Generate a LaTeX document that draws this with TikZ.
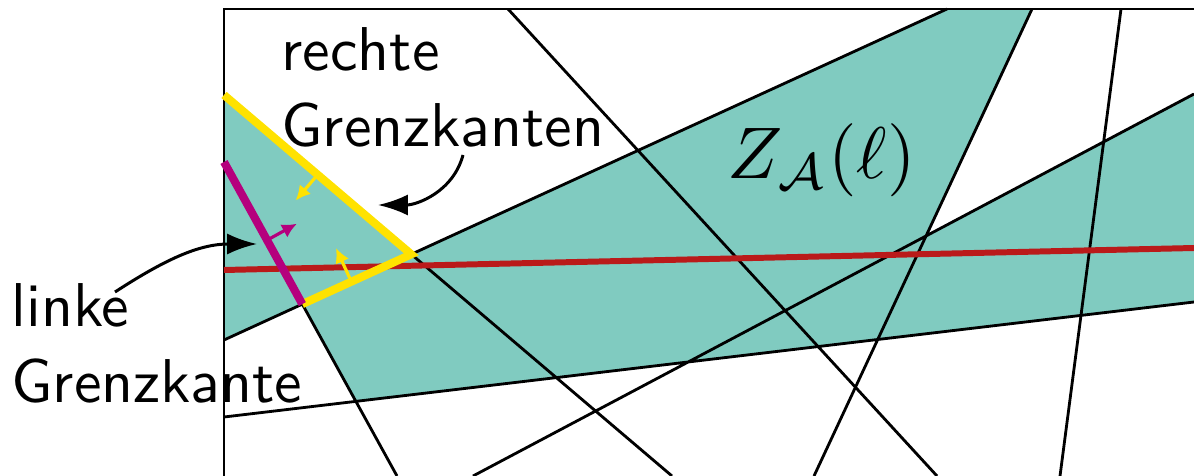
\documentclass[tikz,border=0pt]{standalone}
\usetikzlibrary{arrows.meta,calc}
\definecolor{zonefill}{RGB}{128,203,192}
\definecolor{grenzgelb}{RGB}{255,226,0}
\definecolor{grenzlila}{RGB}{181,0,125}
\definecolor{linerot}{RGB}{186,26,26}
\tikzstyle{arrline}=[black,line width=0.8pt]
\tikzstyle{rkante}=[grenzgelb,line width=2.3pt]
\tikzstyle{lkante}=[grenzlila,line width=2.3pt]
\tikzstyle{ell}=[linerot,line width=1.7pt]
\tikzstyle{dirpfeil}=[line width=0.9pt,-{Latex[length=4.2pt,width=4.2pt]}]
\tikzstyle{zeiger}=[black,line width=0.85pt,-{Latex[length=8.5pt,width=6pt]}]
\tikzstyle{beschr}=[inner sep=0pt,font=\fontsize{10}{12.27}\selectfont\sffamily]
\newcommand{\gross}[1]{\scalebox{1.76}{\begin{tabular}{@{}l@{}}#1\end{tabular}}}

\begin{document}
\begin{tikzpicture}[x=0.01cm,y=-0.01cm]
\useasboundingbox (0,0) rectangle (1194,476);
% Rahmen
\coordinate (R0) at (224,476);
\coordinate (R1) at (224,9);
\coordinate (R2) at (1194,9);
% Geraden des Arrangements
\coordinate (A1) at (224,340); \coordinate (A2) at (947,9);
\coordinate (B1) at (224,95);  \coordinate (B2) at (672,476);
\coordinate (C1) at (508,9);   \coordinate (C2) at (937,476);
\coordinate (D1) at (1032,9);  \coordinate (D2) at (814,476);
\coordinate (E1) at (1121,9);  \coordinate (E2) at (1060,476);
\coordinate (F1) at (1194,94); \coordinate (F2) at (473,476);
\coordinate (G1) at (224,417); \coordinate (G2) at (1194,302);
\coordinate (H1) at (224,162); \coordinate (H2) at (397,476);
\coordinate (L1) at (224,270); \coordinate (L2) at (1194,248);
% Schnittpunkte
\coordinate (S) at (411.3,254.3);
\coordinate (HA) at (302.3,304.1);
\coordinate (HG) at (355.9,401.4);
\coordinate (DF) at (926.3,235.9);

\fill[zonefill] (B1) -- (S) -- (A2) -- (D1) -- (DF) -- (F1) -- (G2) -- (HG) -- (HA) -- (A1) -- cycle;

\draw[arrline] (A1)--(A2) (B1)--(B2) (C1)--(C2) (D1)--(D2) (E1)--(E2) (F1)--(F2) (G1)--(G2) (H1)--(H2);
\draw[arrline] (R0) -- (R1) -- (R2);
\draw[ell] (L1) -- (L2);

\draw[rkante] (B1) -- (S) -- (HA);
\draw[lkante] (H1) -- (HA);
\draw[dirpfeil,grenzgelb] ($(B1)!0.5!(S)$) -- ($(B1)!0.5!(S)!0.34cm!-90:(S)$);
\draw[dirpfeil,grenzgelb] ($(HA)!0.45!(S)$) -- ($(HA)!0.45!(S)!0.37cm!90:(S)$);
\draw[dirpfeil,grenzlila] ($(H1)!0.55!(HA)$) -- ($(H1)!0.55!(HA)!0.34cm!90:(HA)$);

\node[beschr,anchor=north west] (rechts) at (281,17) {\gross{rechte\\Grenzkanten}};
\node[beschr,anchor=north west] (links) at (11,273) {\gross{linke\\Grenzkante}};
\node[inner sep=0pt,anchor=base west] (zone) at (727,179) {\scalebox{2.08}{$Z_{\mathcal{A}}(\ell)$}};

\coordinate (rs) at (463,155); \coordinate (rz) at (378,205);
\coordinate (ls) at (115,292); \coordinate (lz) at (257,244);
\draw[zeiger] (rs) to[out=-105,in=0] (rz);
\draw[zeiger] (ls) to[out=33,in=180] (lz);
\end{tikzpicture}
\end{document}
